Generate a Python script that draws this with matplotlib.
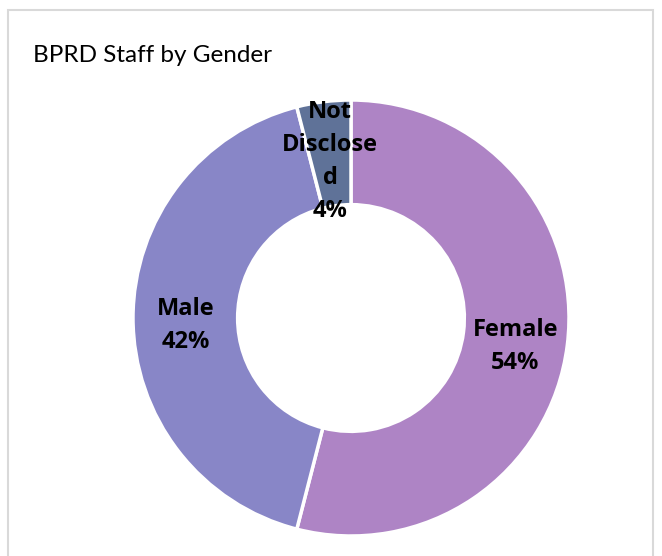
import matplotlib
matplotlib.use("Agg")
import matplotlib.pyplot as plt
import numpy as np
from matplotlib.patches import Rectangle

categories = ["Female", "Male", "Not Disclosed"]
label_texts = ["Female", "Male", "Not\nDisclose\nd"]
values = [54, 42, 4]
colors = ["#AE84C5", "#8886C7", "#5F7298"]
title = "BPRD Staff by Gender"

W, H = 662, 556
fig = plt.figure(figsize=(W / 100, H / 100), dpi=100)
fig.patch.set_facecolor("white")

# chart border
fig.add_artist(Rectangle((8 / W, -0.05), (653 - 8) / W, (H - 10) / H + 0.05,
                         transform=fig.transFigure, fill=False,
                         edgecolor="#D9D9D9", linewidth=1.5))

R = 218
cx, cy = 351, H - 318
ax = fig.add_axes([(cx - R) / W, (cy - R) / H, 2 * R / W, 2 * R / H])

wedges, _ = ax.pie(values, colors=colors, startangle=90, counterclock=False,
                   radius=1, wedgeprops=dict(width=0.48, edgecolor="white", linewidth=2.5))
ax.set_xlim(-1, 1)
ax.set_ylim(-1, 1)
ax.set_aspect("equal")
ax.axis("off")

total = sum(values)
for w, lab, v in zip(wedges, label_texts, values):
    ang = np.deg2rad((w.theta1 + w.theta2) / 2)
    r = 0.76
    ax.text(r * np.cos(ang), r * np.sin(ang) - 0.035, f"{lab}\n{v / total * 100:.0f}%",
            ha="center", va="center", fontsize=17, fontweight="bold",
            family=["Open Sans", "DejaVu Sans"], color="black", linespacing=1.5)

fig.text(33 / W, 1 - 55 / H, title, ha="left", va="center", fontsize=17.5,
         family=["Lato", "DejaVu Sans"], color="black")

fig.savefig("out.png", dpi=100)
